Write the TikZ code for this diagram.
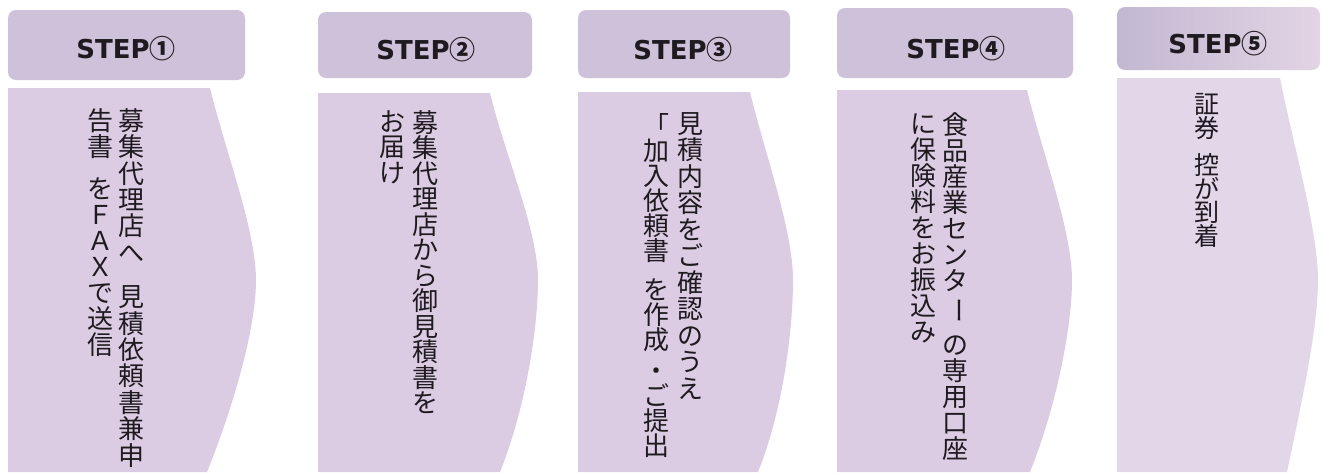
\documentclass[tikz,border=0pt]{standalone}
\usepackage{fontspec}
\newfontfamily\jp{Noto Sans CJK JP}
\newfontfamily\stepf{DejaVu Sans}
\definecolor{hdrc}{RGB}{206,194,218}
\definecolor{hdrdark}{RGB}{194,184,210}
\definecolor{hdrlight}{RGB}{226,212,228}
\definecolor{bodyc}{RGB}{220,204,227}
\definecolor{bodylight}{RGB}{226,214,233}
\definecolor{inkc}{RGB}{30,26,32}
\newcommand\vcolumn[2]{\vbox{\baselineskip=#1\relax\lineskiplimit=-20pt\relax\lineskip=0pt\relax\halign{\hfil##\hfil\cr#2\crcr}}}
\newcommand\vgap[1]{\noalign{\vskip#1}}
\newcommand\vbar{\rotatebox[origin=c]{-90}{ー}}
\tikzset{
  hdrbox/.style={fill=hdrc, rounded corners=4pt, inner sep=0pt},
  hdrtxt/.style={font=\stepf\bfseries\fontsize{13}{15}\selectfont, text=inkc, anchor=base, inner sep=0pt},
  vcol/.style={anchor=north, inner sep=0pt, text=inkc, font=\jp\fontsize{13}{14}\selectfont},
  bodyfill/.style={fill=bodyc}
}
\begin{document}
\begin{tikzpicture}[x=0.5pt,y=-0.5pt]
\useasboundingbox (0,0) rectangle (1323,472);
% bodies (chevrons)
\foreach \L/\T/\R/\P/\B in {8/88/210/256/207, 318/93/490/538/500, 578/92/750/793/758, 837/90/1027/1072/1030}{
  \fill[bodyfill] (\L,\T) -- (\R,\T) .. controls (\R+15,\T+62) and (\P,230) .. (\P,280)
     .. controls (\P,330) and (\B+25,410) .. (\B,472) -- (\L,472) -- cycle;
}
\fill[fill=bodylight] (1117,78) -- (1280,78) .. controls (1292,140) and (1318,230) .. (1318,280)
     .. controls (1318,330) and (1300,410) .. (1287,472) -- (1117,472) -- cycle;
% headers
\node[hdrbox, minimum width=118.5pt, minimum height=35pt] (h1) at (126.5,45) {};
\node[hdrbox, minimum width=107pt, minimum height=33pt] (h2) at (425,45) {};
\node[hdrbox, minimum width=106pt, minimum height=34pt] (h3) at (684,44) {};
\node[hdrbox, minimum width=118pt, minimum height=35pt] (h4) at (955,43) {};
\node[hdrbox, minimum width=101.5pt, minimum height=31.5pt, fill=none, left color=hdrdark, right color=hdrlight] (h5) at (1218.5,38.5) {};
\node[hdrtxt] (t1) at (126,58) {STEP{\jp\bfseries ①}};
\node[hdrtxt] (t2) at (426,59) {STEP{\jp\bfseries ②}};
\node[hdrtxt] (t3) at (683,59) {STEP{\jp\bfseries ③}};
\node[hdrtxt] (t4) at (956,58) {STEP{\jp\bfseries ④}};
\node[hdrtxt] (t5) at (1218,53) {STEP{\jp\bfseries ⑤}};
% vertical texts
\node[vcol] (s1a) at (131,108) {\vcolumn{13.2pt}{募\cr 集\cr 代\cr 理\cr 店\cr へ\cr\vgap{9pt} 見\cr 積\cr 依\cr 頼\cr 書\cr 兼\cr 申}};
\node[vcol] (s1b) at (100,108) {\vcolumn{13pt}{告\cr 書\cr\vgap{8pt} を\cr Ｆ\cr Ａ\cr Ｘ\cr で\cr 送\cr 信}};
\node[vcol] (s2a) at (425,110) {\vcolumn{12.75pt}{募\cr 集\cr 代\cr 理\cr 店\cr か\cr ら\cr 御\cr 見\cr 積\cr 書\cr を}};
\node[vcol] (s2b) at (392,110) {\vcolumn{12.75pt}{お\cr 届\cr け}};
\node[vcol] (s3a) at (690,112) {\vcolumn{13.25pt}{見\cr 積\cr 内\cr 容\cr を\cr ご\cr 確\cr 認\cr の\cr う\cr え}};
\node[vcol] (s3b) at (656,113) {\vcolumn{12.5pt}{「\cr 加\cr 入\cr 依\cr 頼\cr 書\cr\vgap{7pt} を\cr 作\cr 成\cr\vgap{3pt} ・\cr ご\cr 提\cr 出}};
\node[vcol] (s4a) at (955,112) {\vcolumn{13pt}{食\cr 品\cr 産\cr 業\cr セ\cr ン\cr タ\cr \vbar\cr\vgap{6pt} の\cr 専\cr 用\cr 口\cr 座}};
\node[vcol] (s4b) at (923,113) {\vcolumn{13pt}{に\cr 保\cr 険\cr 料\cr を\cr お\cr 振\cr 込\cr み}};
\node[vcol, font=\jp\fontsize{12.5}{14}\selectfont] (s5) at (1207,93) {\vcolumn{11.75pt}{証\cr 券\cr\vgap{7pt} 控\cr が\cr 到\cr 着}};
\end{tikzpicture}
\end{document}
